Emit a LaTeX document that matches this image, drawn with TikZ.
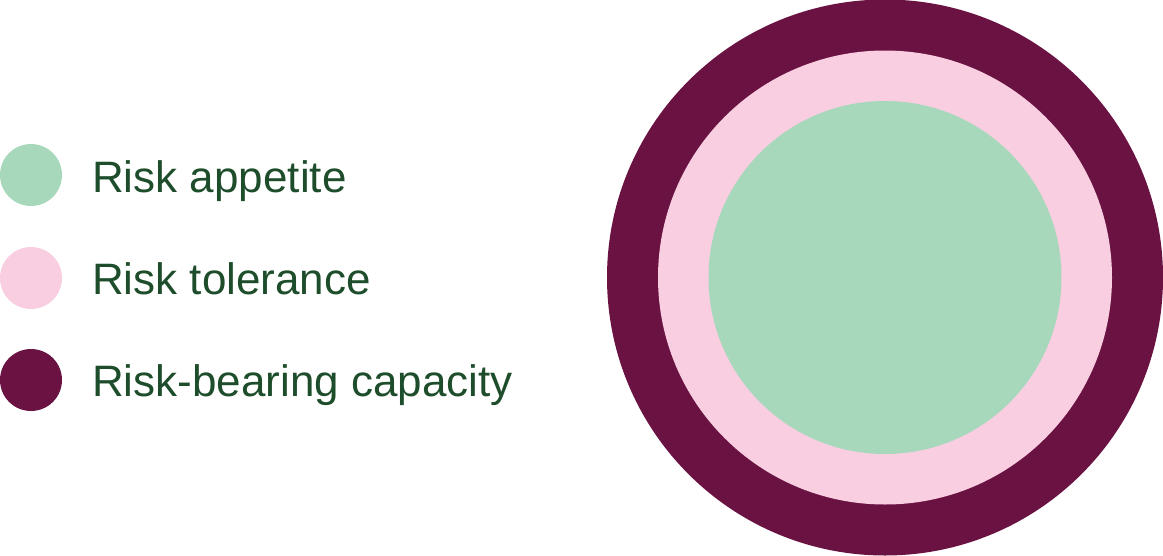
\documentclass[tikz,border=0pt]{standalone}
\usepackage{fontspec}
\setmainfont{Liberation Sans}
\definecolor{maroon}{HTML}{6A1242}
\definecolor{pinkc}{HTML}{F8CEE0}
\definecolor{greenc}{HTML}{A8D8BC}
\definecolor{textc}{HTML}{1E4D2B}
\begin{document}
\begin{tikzpicture}[x=1pt,y=-1pt,
  dot/.style={circle,inner sep=0pt,minimum size=62pt},
  lbl/.style={anchor=base west,inner sep=0pt,text=textc,font=\fontsize{44}{50}\selectfont}]
\useasboundingbox (0,0) rectangle (1163,555);
\node[circle,fill=maroon,inner sep=0pt,minimum size=556pt] (outer) at (885,277.5) {};
\node[circle,fill=pinkc,inner sep=0pt,minimum size=454pt] (mid) at (885,277.5) {};
\node[circle,fill=greenc,inner sep=0pt,minimum size=353pt] (inner) at (885,277.5) {};
\node[dot,fill=greenc] (d1) at (31,175) {};
\node[dot,fill=pinkc] (d2) at (31,278) {};
\node[dot,fill=maroon] (d3) at (31,380) {};
\node[lbl] (t1) at (92,192) {Risk appetite};
\node[lbl] (t2) at (92,294) {Risk tolerance};
\node[lbl] (t3) at (92,396) {Risk-bearing capacity};
\end{tikzpicture}
\end{document}
